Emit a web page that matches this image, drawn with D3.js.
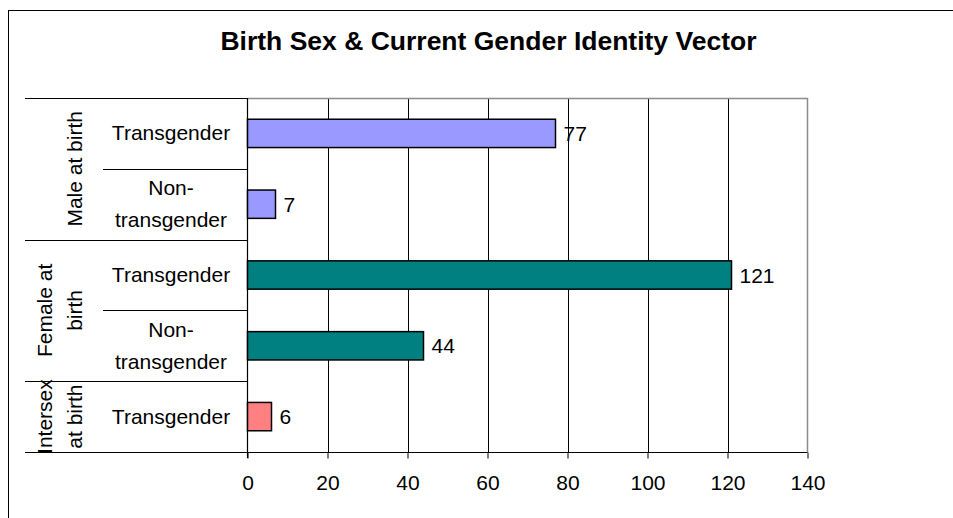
<!DOCTYPE html>
<html>
  <head>
    <style>
      body,
      html {
        margin: 0;
        padding: 0;
        background: #ffffff;
        overflow: hidden;
      }
      svg text {
        font-family: "Liberation Sans", Arial, sans-serif;
        fill: #000000;
      }
    </style>
    <script src="https://d3js.org/d3.v7.min.js"></script>
    <title>birth sex</title>
  </head>

  <body>
    <svg id="chart" width="953" height="518"></svg>

    <script>
      // chart data
      var birthSex = [
        "Male at birth",
        "Male at birth",
        "Female at birth",
        "Female at birth",
        "Intersex at birth",
      ];
      var identity = [
        "Transgender",
        "Non-transgender",
        "Transgender",
        "Non-transgender",
        "Transgender",
      ];
      var counts = [77, 7, 121, 44, 6];
      var groupNames = ["Male at birth", "Female at birth", "Intersex at birth"];
      var groupLines = [["Male at birth"], ["Female at", "birth"], ["Intersex", "at birth"]];
      var identityLines = {
        Transgender: ["Transgender"],
        "Non-transgender": ["Non-", "transgender"],
      };
      var xTicks = [0, 20, 40, 60, 80, 100, 120, 140];
      var barColors = {
        "Male at birth": "#9999ff",
        "Female at birth": "#008080",
        "Intersex at birth": "#ff8080",
      };

      var svg = d3.select("#chart");
      var plotL = 247.5,
        plotR = 807.5,
        plotT = 98,
        plotB = 452;

      var xScale = d3.scaleLinear().domain([0, 140]).range([plotL, plotR]);
      var rowScale = d3
        .scaleBand()
        .domain(d3.range(counts.length))
        .range([plotT, plotB]);
      var rowH = rowScale.bandwidth();

      // outer border
      svg
        .append("rect")
        .attr("x", 8.5)
        .attr("y", 10.5)
        .attr("width", 980)
        .attr("height", 540)
        .style("fill", "none")
        .style("stroke", "#000")
        .style("stroke-width", "1px");

      // title
      svg
        .append("text")
        .attr("x", 488.5)
        .attr("y", 50)
        .attr("text-anchor", "middle")
        .style("font-weight", "bold")
        .style("font-size", "26.5px")
        .text("Birth Sex & Current Gender Identity Vector");

      // grid lines
      svg
        .append("g")
        .selectAll("line")
        .data(xTicks.slice(1, -1))
        .enter()
        .append("line")
        .attr("x1", (d) => Math.round(xScale(d)) + 0.5)
        .attr("x2", (d) => Math.round(xScale(d)) + 0.5)
        .attr("y1", plotT)
        .attr("y2", plotB)
        .style("stroke", "#000")
        .style("stroke-width", "1px");

      // plot border top + right (grey)
      svg
        .append("path")
        .attr("d", "M" + plotL + "," + (plotT + 0.5) + "H" + plotR + "V" + plotB)
        .style("fill", "none")
        .style("stroke", "#8c8c8c")
        .style("stroke-width", "1.5px");

      // x axis
      var xAxis = d3
        .axisBottom(xScale)
        .tickValues(xTicks)
        .tickSize(6)
        .tickSizeOuter(0)
        .tickPadding(8);
      var gx = svg
        .append("g")
        .attr("transform", "translate(0," + (plotB + 0.5) + ")")
        .call(xAxis);
      gx.select(".domain").remove();
      gx.selectAll("line").style("stroke", "#000").style("stroke-width", "1px");
      gx.selectAll("text")
        .style("font-size", "21px")
        .style("font-family", "Liberation Sans, Arial, sans-serif")
        .attr("y", 0)
        .attr("dy", null)
        .attr("transform", "translate(0,37)");

      // category table lines
      var tbl = svg.append("g");
      // top and bottom full-width lines
      [plotT, plotB].forEach(function (y) {
        tbl
          .append("line")
          .attr("x1", 25)
          .attr("x2", y == plotB ? plotR : plotL)
          .attr("y1", y + 0.5)
          .attr("y2", y + 0.5)
          .style("stroke", "#000")
          .style("stroke-width", "1.2px");
      });
      // separators between rows
      for (var i = 1; i < counts.length; i++) {
        var newGroup = birthSex[i] != birthSex[i - 1];
        tbl
          .append("line")
          .attr("x1", newGroup ? 25 : 103)
          .attr("x2", plotL)
          .attr("y1", Math.round(rowScale(i)) + 0.5)
          .attr("y2", Math.round(rowScale(i)) + 0.5)
          .style("stroke", "#000")
          .style("stroke-width", "1.2px");
      }
      // y axis line
      tbl
        .append("line")
        .attr("x1", plotL)
        .attr("x2", plotL)
        .attr("y1", plotT)
        .attr("y2", plotB + 6)
        .style("stroke", "#000")
        .style("stroke-width", "1.2px");

      // identity labels
      identity.forEach(function (name, i) {
        var lines = identityLines[name];
        var cy = rowScale(i) + rowH / 2;
        var t = svg
          .append("text")
          .attr("text-anchor", "middle")
          .style("font-size", "21px");
        lines.forEach(function (ln, j) {
          t.append("tspan")
            .attr("x", 171)
            .attr("y", cy + 7 + (j - (lines.length - 1) / 2) * 32)
            .text(ln);
        });
      });

      // birth sex group labels (rotated)
      groupNames.forEach(function (g, gi) {
        var idx = d3.range(counts.length).filter((i) => birthSex[i] == g);
        var y0 = rowScale(idx[0]);
        var y1 = rowScale(idx[idx.length - 1]) + rowH;
        var cy = (y0 + y1) / 2;
        var lines = groupLines[gi];
        lines.forEach(function (ln, j) {
          var bx = 81.5 - (lines.length - 1 - j) * 30;
          svg
            .append("text")
            .attr("text-anchor", "middle")
            .attr("transform", "translate(" + bx + "," + cy + ") rotate(-90)")
            .style("font-size", "21px")
            .text(ln);
        });
      });

      // bars
      svg
        .append("g")
        .selectAll("rect")
        .data(counts)
        .enter()
        .append("rect")
        .attr("x", xScale(0))
        .attr("y", (d, i) => rowScale(i) + rowH * 0.3)
        .attr("width", (d) => xScale(d) - xScale(0))
        .attr("height", rowH * 0.4)
        .style("fill", (d, i) => barColors[birthSex[i]])
        .style("stroke", "#000")
        .style("stroke-width", "1.5px");

      // value labels
      svg
        .append("g")
        .selectAll("text")
        .data(counts)
        .enter()
        .append("text")
        .attr("x", (d) => xScale(d) + 8)
        .attr("y", (d, i) => rowScale(i) + rowH / 2 + 7.5)
        .style("font-size", "21px")
        .text((d) => d);
    </script>
  </body>
</html>
